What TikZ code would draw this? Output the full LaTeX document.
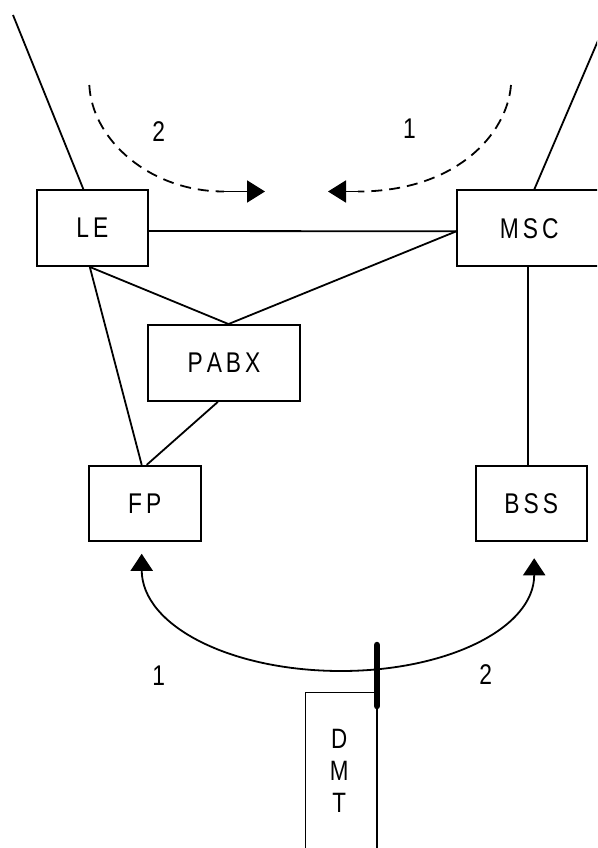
\documentclass[tikz,border=0pt]{standalone}
\usepackage{fontspec}
\setmainfont{Liberation Sans}[FakeStretch=0.8]
\usetikzlibrary{arrows.meta,calc}
\newcommand\lsp{\kern4pt}
\begin{document}
\begin{tikzpicture}[x=1pt,y=-1pt,
  box/.style={draw, line width=1.9pt, inner sep=0pt, font=\fontsize{28.5}{30}\selectfont},
  conn/.style={line width=1.8pt},
  dsh/.style={line width=1.8pt, dash pattern=on 11pt off 7pt},
  lab/.style={font=\fontsize{28.5}{30}\selectfont, inner sep=0pt},
  tip/.style={-{Triangle[length=18pt,width=22pt]}},
  bitip/.style={{Triangle[length=17pt,width=22pt]}-{Triangle[length=17pt,width=22pt]}},
  bar/.style={line width=6.5pt, line cap=round}]
\useasboundingbox (0,0) rectangle (597,848);
\clip (0,0) rectangle (597,848);

% boxes
\node[box, minimum width=111.5pt, minimum height=76pt] (LE) at (92.3,228) {\raisebox{-1.5pt}{L\lsp E}};
\node[box, minimum width=144pt, minimum height=76pt] (MSC) at (529.3,228.3) {\raisebox{-1.5pt}{M\lsp S\lsp C}};
\node[box, minimum width=152pt, minimum height=76pt] (PABX) at (224,363) {P\lsp A\lsp B\lsp X};
\node[box, minimum width=112pt, minimum height=75pt] (FP) at (144.7,503.3) {F\lsp P};
\node[box, minimum width=111pt, minimum height=75pt] (BSS) at (531.2,503.3) {B\lsp S\lsp S};
\node[minimum width=71pt, minimum height=170pt, inner sep=0pt] (DMT) at (341.2,777.7) {};
\node[lab, align=center, font=\fontsize{28}{32.3}\selectfont] (DMTt) at (339.3,771) {D\\M\\T};

% DMT outline (open at the bottom)
\draw[conn] (DMT.south west) -- (DMT.north west) -- (DMT.north east) -- (DMT.south east);

% connectors
\draw[conn] ($(LE.east)+(0,3)$) -- ($(MSC.west)+(0,3)$);
\draw[conn] ($(MSC.west)+(0,3)$) -- ($(PABX.north)+(4.5,0)$);
\draw[conn] ($(LE.south)+(-2.5,0)$) -- ($(PABX.north)+(4.5,0)$);
\draw[conn] ($(LE.south)+(-2.5,0)$) -- ($(FP.north)+(-3,0)$);
\draw[conn] ($(PABX.south)+(-6.2,0)$) -- ($(FP.north)+(2,0)$);
\coordinate (m) at ($(MSC.south)+(-1.5,0)$);
\draw[conn] (m) -- (m |- BSS.north);

% outgoing lines at the top
\coordinate (tl) at (13,15);
\draw[conn] (tl) -- ($(LE.north)+(-9,0)$);
\coordinate (tr) at (615.4,0);
\draw[conn] (tr) -- ($(MSC.north)+(5,0)$);

% dashed routes at the top
\coordinate (d2s) at (89.3,85);
\coordinate (d2e) at (224,191.5);
\coordinate (a2) at (265,191.5);
\draw[dsh] (d2s) .. controls (92,140) and (150,191.5) .. (d2e);
\draw[conn, tip] (d2e) -- (a2);
\coordinate (d1s) at (511,85);
\coordinate (d1e) at (358,191.5);
\coordinate (a1) at (328,191.5);
\draw[dsh] (d1s) .. controls (507,135) and (455,191.5) .. (d1e);
\draw[conn, tip] (d1e) -- (a1);

% radio route at the bottom
\coordinate (b1) at ($(FP.south)+(-3,12)$);
\coordinate (b2) at ($(BSS.south)+(3,16.5)$);
\draw[conn, bitip] (b1) -- (141.7,570) .. controls (141.7,626) and (231,671) .. (341,671)
   .. controls (447.6,671) and (534.2,628) .. (534.2,575) -- (b2);
\draw[bar] ($(DMT.north east)+(0,-47.5)$) -- ($(DMT.north east)+(0,13.5)$);

% labels
\node[lab] (l2t) at (158.7,131.3) {2};
\node[lab] (l1t) at (409.4,128.3) {1};
\node[lab] (l1b) at (158.7,675.3) {1};
\node[lab] (l2b) at (485.7,675) {2};
\end{tikzpicture}
\end{document}
